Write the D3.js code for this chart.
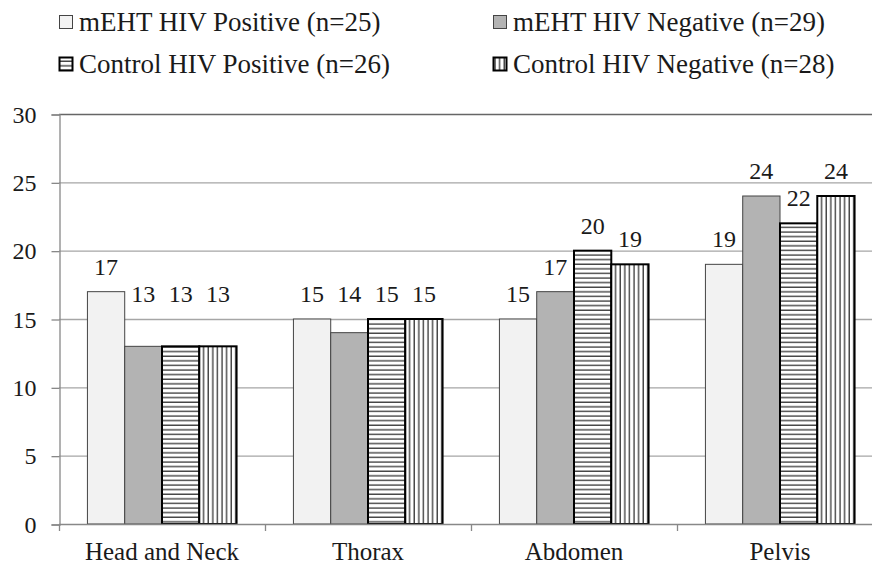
<!DOCTYPE html>
<html>
<head>
<meta charset="utf-8">
<script src="https://cdn.jsdelivr.net/npm/d3@7"></script>
</head>
<body style="margin:0">
<div id="chart"></div>
<script>
var regions = ["Head and Neck", "Thorax", "Abdomen", "Pelvis"];
var groups = ["mEHT HIV Positive (n=25)", "mEHT HIV Negative (n=29)",
              "Control HIV Positive (n=26)", "Control HIV Negative (n=28)"];
var mehtPos = [17, 15, 15, 19];
var mehtNeg = [13, 14, 17, 24];
var ctrlPos = [13, 15, 20, 22];
var ctrlNeg = [13, 15, 19, 24];
var yTicks = [0, 5, 10, 15, 20, 25, 30];

var series = [mehtPos, mehtNeg, ctrlPos, ctrlNeg];

var svg = d3.select("#chart")
  .append("svg")
  .attr("width", 872)
  .attr("height", 569)
  .attr("font-family", "Times New Roman");

// hatch patterns for the control groups
var defs = svg.append("defs");
var hp = defs.append("pattern")
  .attr("id", "hlines")
  .attr("patternUnits", "userSpaceOnUse")
  .attr("width", 8).attr("height", 4.6);
hp.append("rect").attr("width", 8).attr("height", 4.6).attr("fill", "#fff");
hp.append("line").attr("x1", 0).attr("x2", 8).attr("y1", 2).attr("y2", 2)
  .attr("stroke", "#111").attr("stroke-width", 1.1);

var vp = defs.append("pattern")
  .attr("id", "vlines")
  .attr("patternUnits", "userSpaceOnUse")
  .attr("width", 4.6).attr("height", 8);
vp.append("rect").attr("width", 4.6).attr("height", 8).attr("fill", "#fff");
vp.append("line").attr("y1", 0).attr("y2", 8).attr("x1", 2).attr("x2", 2)
  .attr("stroke", "#111").attr("stroke-width", 1.1);

var fills = ["#f2f2f2", "#b3b3b3", "url(#hlines)", "url(#vlines)"];
var strokes = ["#444", "#444", "#000", "#000"];
var strokeW = [1, 1, 2, 2];

var x0 = d3.scaleBand()
  .domain(regions)
  .range([59, 883]);

var x1 = d3.scaleBand()
  .domain(d3.range(groups.length))
  .range([x0.bandwidth() * 0.138, x0.bandwidth() * 0.862]);

var y = d3.scaleLinear()
  .domain([0, 30])
  .range([524, 114]);

// gridlines
svg.append("g")
  .selectAll("line")
  .data(yTicks.filter(d => d > 0))
  .enter()
  .append("line")
  .attr("x1", 59)
  .attr("x2", 883)
  .attr("y1", d => y(d) + 0.5)
  .attr("y2", d => y(d) + 0.5)
  .attr("stroke", d => d === 30 ? "#666" : "#a6a6a6")
  .attr("stroke-width", 1.3);

// y axis
var leftAxis = d3.axisLeft(y)
  .tickValues(yTicks)
  .tickSize(8)
  .tickPadding(15);

var yAxis = svg.append("g")
  .attr("transform", "translate(59.5, 0.5)")
  .call(leftAxis);
yAxis.attr("font-family", "Times New Roman").attr("font-size", 24);
yAxis.select(".domain").attr("stroke", "#888").attr("stroke-width", 1.3);
yAxis.selectAll(".tick line").attr("stroke", "#888").attr("stroke-width", 1.3);
yAxis.selectAll(".tick text")
  .attr("font-family", "Times New Roman")
  .attr("fill", "#1a1a1a");

// bars
var bars = svg.append("g")
  .selectAll("g")
  .data(regions)
  .enter()
  .append("g")
  .attr("transform", d => `translate(${x0(d)}, 0)`);

bars.selectAll("rect")
  .data((r, i) => series.map((s, k) => ({ k: k, v: s[i] })))
  .enter()
  .append("rect")
  .attr("x", d => x1(d.k))
  .attr("width", x1.bandwidth())
  .attr("y", d => y(d.v))
  .attr("height", d => y(0) - y(d.v))
  .attr("fill", d => fills[d.k])
  .attr("stroke", d => strokes[d.k])
  .attr("stroke-width", d => strokeW[d.k]);

bars.selectAll("text")
  .data((r, i) => series.map((s, k) => ({ k: k, v: s[i] })))
  .enter()
  .append("text")
  .attr("x", d => x1(d.k) + x1.bandwidth() / 2)
  .attr("y", d => y(Math.max(d.v, 15)) - 17)
  .attr("text-anchor", "middle")
  .attr("font-family", "Times New Roman")
  .attr("font-size", 24)
  .attr("fill", "#1a1a1a")
  .text(d => d.v);

// x axis
var bottomAxis = d3.axisBottom(x0).tickSize(0).tickPadding(18);
var xAxis = svg.append("g")
  .attr("transform", "translate(0, 524.5)")
  .call(bottomAxis);
xAxis.attr("font-family", "Times New Roman").attr("font-size", 25);
xAxis.select(".domain").remove();
xAxis.selectAll(".tick text")
  .attr("font-family", "Times New Roman")
  .attr("fill", "#1a1a1a");

svg.append("line")
  .attr("x1", 59).attr("x2", 883)
  .attr("y1", 524.5).attr("y2", 524.5)
  .attr("stroke", "#888").attr("stroke-width", 1.3);

svg.append("g")
  .selectAll("line")
  .data(regions.concat(["end"]))
  .enter()
  .append("line")
  .attr("x1", (d, i) => 59.5 + i * x0.bandwidth())
  .attr("x2", (d, i) => 59.5 + i * x0.bandwidth())
  .attr("y1", 524)
  .attr("y2", 531)
  .attr("stroke", "#888")
  .attr("stroke-width", 1.3);

// legend
var legendPos = [[59, 31], [493, 31], [59, 73], [493, 73]];
var legend = svg.append("g")
  .selectAll("g")
  .data(groups)
  .enter()
  .append("g")
  .attr("transform", (d, i) => `translate(${legendPos[i][0]}, ${legendPos[i][1]})`);

legend.append("rect")
  .attr("x", 0.5)
  .attr("y", -15.5)
  .attr("width", 13)
  .attr("height", 13)
  .attr("fill", (d, i) => fills[i])
  .attr("stroke", (d, i) => strokes[i])
  .attr("stroke-width", (d, i) => strokeW[i]);

legend.append("text")
  .attr("x", 20)
  .attr("y", 0)
  .attr("font-family", "Times New Roman")
  .attr("font-size", 27)
  .attr("fill", "#1a1a1a")
  .text(d => d);
</script>
</body>
</html>
